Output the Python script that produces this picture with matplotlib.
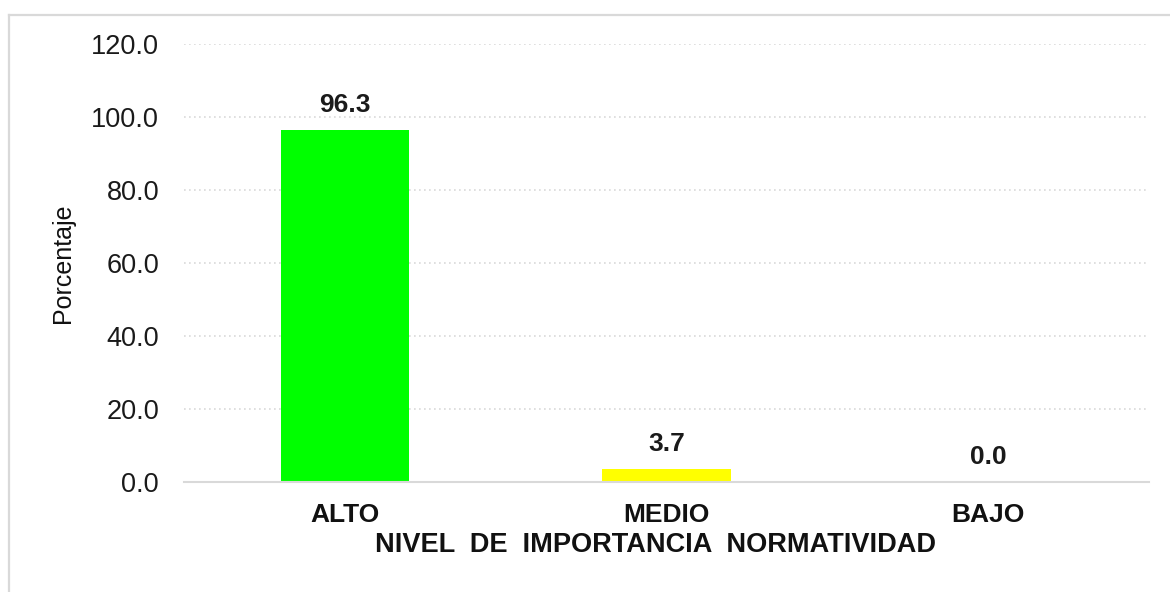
import matplotlib.pyplot as plt
from matplotlib.lines import Line2D

# Data
categories = ["ALTO", "MEDIO", "BAJO"]
values = [96.3, 3.7, 0.0]
bar_colors = ["#00FF00", "#FFFF00", "#FFC000"]
yticks = [0, 20, 40, 60, 80, 100, 120]

plt.rcParams['font.family'] = ['Liberation Sans', 'DejaVu Sans']

fig = plt.figure(figsize=(11.7, 5.92), dpi=100)
ax = fig.add_axes([0.1573, 0.1858, 0.8247, 0.7399])

x = list(range(len(categories)))
ax.bar(x, values, width=0.4, color=bar_colors, zorder=3)

for xi, v in zip(x, values):
    ax.annotate(f"{v:.1f}", (xi, v), xytext=(0, 18), textcoords="offset points",
                ha="center", va="center", fontsize=19, fontweight="bold", color="#1a1a1a")

ax.set_xlim(-0.5, 2.5)
ax.set_ylim(0, 120)
ax.set_yticks(yticks)
ax.set_yticklabels([f"{t:.1f}" for t in yticks], fontsize=19.5, color="#1a1a1a")
ax.set_xticks(x)
ax.set_xticklabels(categories, fontsize=19, fontweight="bold", color="#111111")
ax.tick_params(axis="y", length=0, pad=18)
ax.tick_params(axis="x", length=0, pad=15)

ax.grid(axis="y", linestyle=(0, (1, 2)), color="#d9d9d9", linewidth=1.2, zorder=0)
for s in ["top", "right", "left"]:
    ax.spines[s].set_visible(False)
ax.spines["bottom"].set_color("#d9d9d9")
ax.spines["bottom"].set_linewidth(1.5)
ax.spines["bottom"].set_zorder(4)

ax.set_ylabel("Porcentaje", fontsize=18, color="#111111")
ax.yaxis.set_label_coords(-0.113, 0.5)
fig.text(0.56, 1 - 545 / 592, "NIVEL  DE  IMPORTANCIA  NORMATIVIDAD", ha="center", va="center",
         fontsize=19.5, fontweight="bold", color="#111111")

# light frame around the chart (left and top edges visible)
fig.add_artist(Line2D([9 / 1170, 9 / 1170], [0, 1 - 15 / 592], transform=fig.transFigure,
                      color="#d9d9d9", linewidth=1.6))
fig.add_artist(Line2D([9 / 1170, 1], [1 - 15 / 592, 1 - 15 / 592], transform=fig.transFigure,
                      color="#d9d9d9", linewidth=1.6))

fig.savefig("out.png", dpi=100, facecolor="white")
